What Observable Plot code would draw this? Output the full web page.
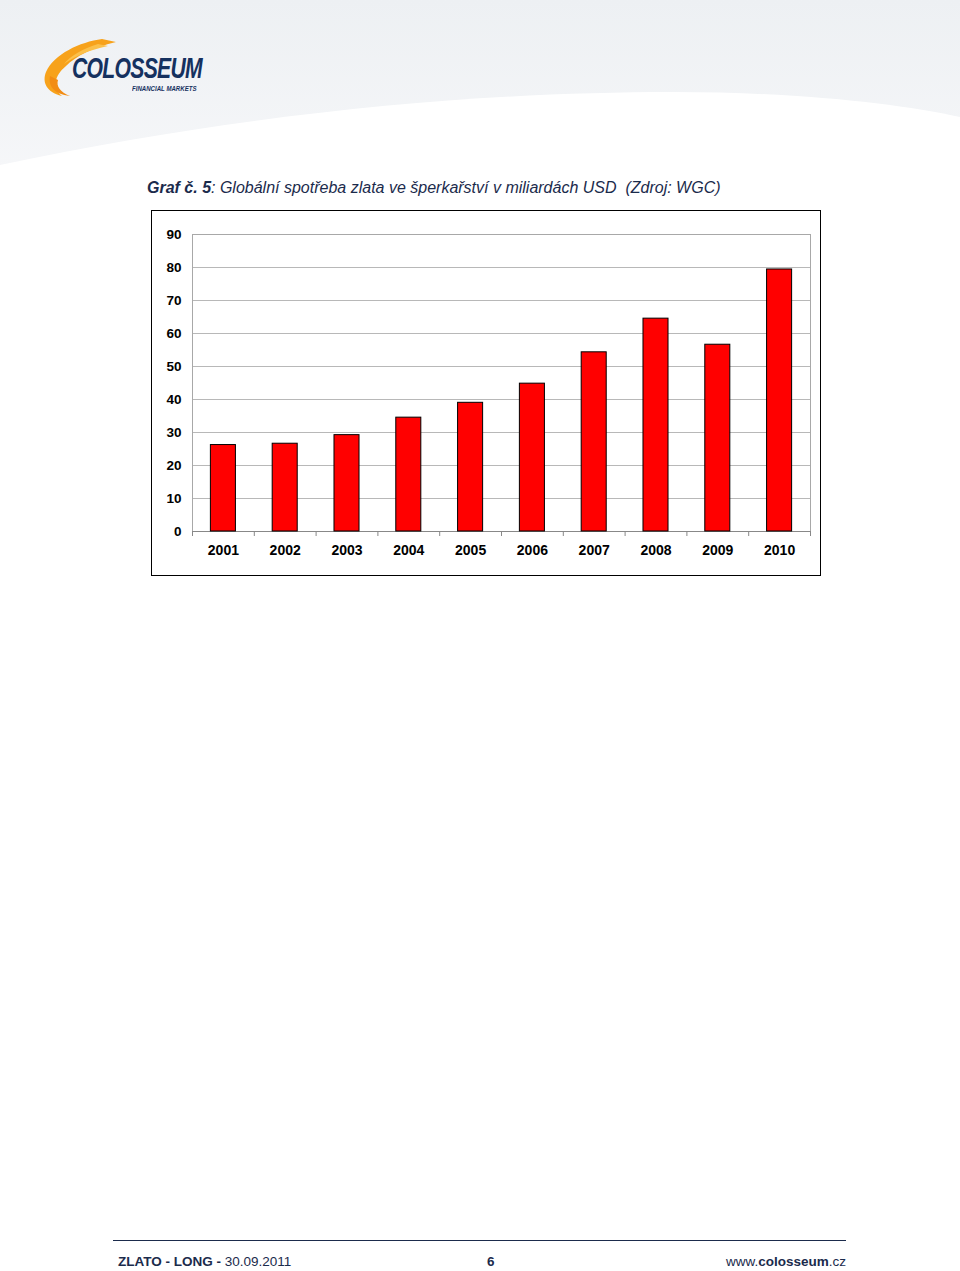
<!DOCTYPE html>
<html>
<head>
<meta charset="utf-8">
<script src="https://cdn.jsdelivr.net/npm/d3@7"></script>
<script src="https://cdn.jsdelivr.net/npm/@observablehq/plot@0.6"></script>
<style>
  html, body { margin: 0; padding: 0; background: #fff; }
  #page { position: relative; width: 960px; height: 1271px; overflow: hidden; font-family: "Liberation Sans", Arial, sans-serif; }
  #hdr { position: absolute; left: 0; top: 0; width: 960px; height: 180px; }
  #logo { position: absolute; left: 40px; top: 36px; width: 170px; height: 64px; }
  #logotext { position: absolute; left: 72px; top: 53px; font-family: "Liberation Sans", Arial, sans-serif; font-weight: bold; font-style: italic; font-size: 30px; line-height: 30px; color: #15315f; letter-spacing: -1px; transform: scaleX(0.705); transform-origin: left top; white-space: nowrap; }
  #logosub { position: absolute; left: 132px; top: 85px; font-family: "Liberation Sans", Arial, sans-serif; font-weight: bold; font-style: italic; font-size: 7px; line-height: 8px; color: #15315f; transform: scaleX(0.87); transform-origin: left top; white-space: nowrap; }
  #title { position: absolute; left: 147px; top: 179px; font-size: 16px; font-style: italic; color: #1b2b4c; white-space: nowrap; }
  #chartbox { position: absolute; left: 151px; top: 210px; width: 668px; height: 364px; border: 1.5px solid #000; background: #fff; }
  #chartbox svg { position: absolute; left: 0; top: 0; }
  #footline { position: absolute; left: 113px; top: 1240px; width: 733px; height: 0; border-top: 1.5px solid #1b2b4c; }
  .foot { position: absolute; top: 1254px; font-size: 13.5px; color: #1b2b4c; white-space: nowrap; }
</style>
</head>
<body>
<div id="page">
  <svg id="hdr" viewBox="0 0 960 180">
    <defs>
      <linearGradient id="hg" x1="0" y1="0" x2="0" y2="1">
        <stop offset="0" stop-color="#edf0f3"/>
        <stop offset="1" stop-color="#f6f7f9"/>
      </linearGradient>
    </defs>
    <rect x="0" y="0" width="960" height="180" fill="url(#hg)"/>
    <path d="M0,165 C250,112 480,92 673,92 C800,92 900,104 960,117 L960,180 L0,180 Z" fill="#fff"/>
  </svg>
  <svg id="logo" viewBox="0 0 170 64">
    <path d="M62 3 C40 6 14 18 6 36 C2 46 6 56 22 60 C12 52 14 40 26 30 C36 20 52 12 76 6 Z" fill="#f7a21b"/>
    <path d="M10 40 C8 50 14 58 30 60 C20 56 16 50 18 44 Z" fill="#f28c14"/>
    <path d="M58 8 C44 12 30 20 24 28 C32 22 48 14 68 10 Z" fill="#fbc04a"/>
  </svg>
  <div id="logotext">COLOSSEUM</div>
  <div id="logosub">FINANCIAL MARKETS</div>
  <div id="title"><b>Graf č. 5</b>: Globální spotřeba zlata ve šperkařství v miliardách USD&nbsp; (Zdroj: WGC)</div>
  <div id="chartbox"></div>
  <div id="footline"></div>
  <div class="foot" style="left:118px;"><b>ZLATO - LONG -</b> 30.09.2011</div>
  <div class="foot" style="left:487px;"><b>6</b></div>
  <div class="foot" style="right:114px;">www.<b>colosseum</b>.cz</div>
</div>
<script>
const years = ["2001","2002","2003","2004","2005","2006","2007","2008","2009","2010"];
const values = [26.2, 26.6, 29.2, 34.5, 39.0, 44.8, 54.3, 64.5, 56.6, 79.4];
const yTicks = [0, 10, 20, 30, 40, 50, 60, 70, 80, 90];

const data = years.map((year, i) => ({year, value: values[i]}));
const step = 61.8;

const chart = Plot.plot({
  width: 668,
  height: 364,
  marginLeft: 40,
  marginRight: 10,
  marginTop: 23,
  marginBottom: 44,
  style: {fontFamily: "'Liberation Sans', Arial, sans-serif", fontSize: "14px", fontWeight: "bold", color: "#000", background: "transparent"},
  x: {domain: years, paddingInner: 0.595, paddingOuter: 0.2975, round: false, label: null},
  y: {domain: [0, 90], label: null},
  marks: [
    Plot.ruleY(yTicks, {stroke: "#b8b8b8", strokeWidth: 1}),
    Plot.frame({stroke: "#a8a8a8", strokeWidth: 1}),
    Plot.ruleY([0], {stroke: "#888", strokeWidth: 1}),
    Plot.ruleX(years, {x: d => d, y1: 0, y2: 0, insetBottom: -5, dx: -step / 2, stroke: "#888"}),
    Plot.ruleX([years[years.length - 1]], {x: d => d, y1: 0, y2: 0, insetBottom: -5, dx: step / 2, stroke: "#888"}),
    Plot.barY(data, {x: "year", y: "value", fill: "#ff0000", stroke: "#000", strokeWidth: 1}),
    Plot.axisX({tickSize: 0, tickPadding: 14, fontSize: 14, fontWeight: "bold", fill: "#000"}),
    Plot.axisY({ticks: yTicks, tickSize: 0, tickPadding: 11, fontSize: 13.5, fontWeight: "bold", fill: "#000"})
  ]
});
document.getElementById("chartbox").appendChild(chart);
</script>
</body>
</html>
